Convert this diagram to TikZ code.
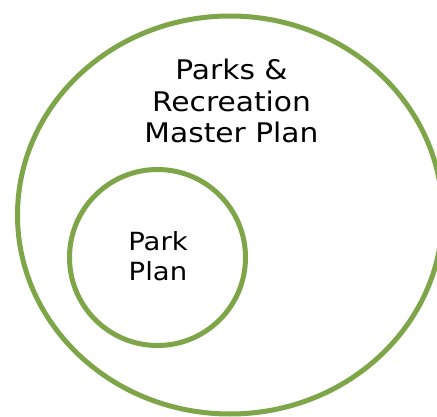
\documentclass[tikz,border=0pt]{standalone}
\usepackage{fontspec}
\newfontfamily\vfont[FakeStretch=1.1]{DejaVu Sans}
\definecolor{ringgreen}{RGB}{126,166,72}
\tikzset{
  ring/.style={draw=ringgreen, line width=5pt},
  label/.style={align=center, inner sep=0pt, text=black, anchor=base}
}
\begin{document}
\begin{tikzpicture}[x=1pt,y=-1pt]
\useasboundingbox (0,0) rectangle (437,417);
\begin{scope}
\clip (0,0) rectangle (437,417);
\draw[ring] (230,215) ellipse [x radius=212.5, y radius=199];
\draw[ring] (157.5,257.5) circle [radius=88];
\end{scope}
\node[label, font={\vfont\fontsize{27}{31.5}\selectfont}] (master) at (231.5,143) {Parks \&\\Recreation\\Master Plan};
\node[label, font={\vfont\fontsize{25}{30}\selectfont}] (park) at (158,280) {Park\\Plan};
\end{tikzpicture}
\end{document}
